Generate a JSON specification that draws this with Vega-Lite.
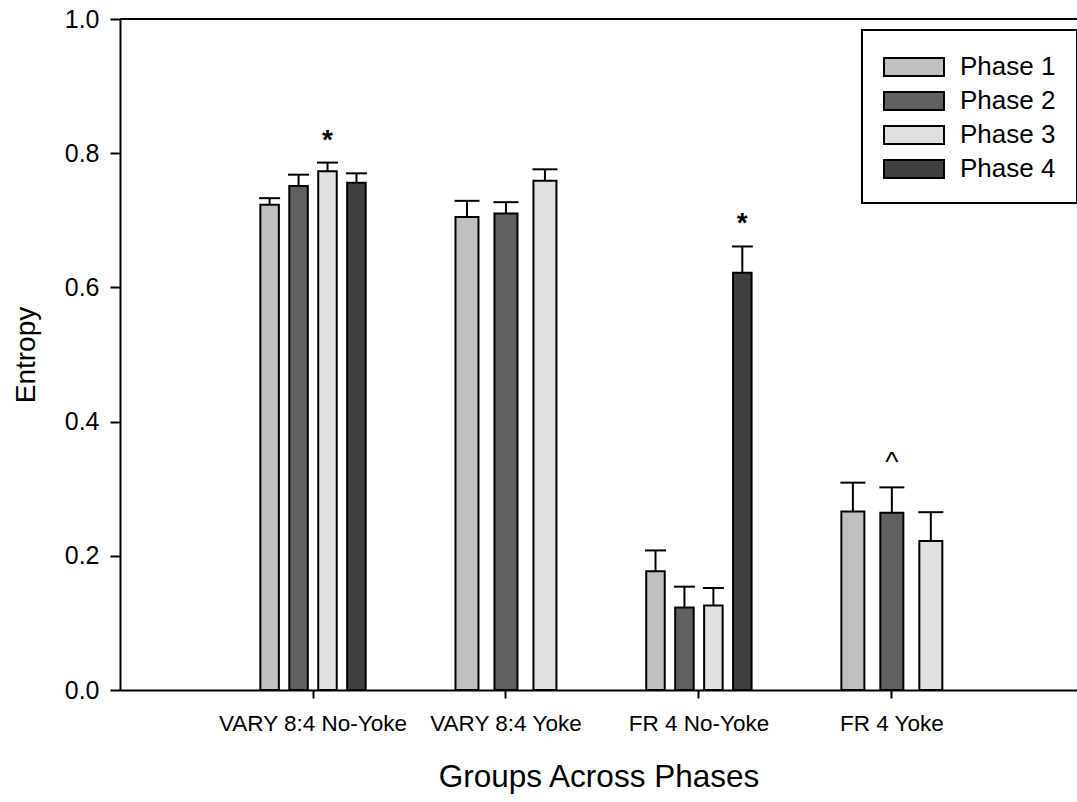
{
  "$schema": "https://vega.github.io/schema/vega-lite/v6.json",
  "width": 957,
  "height": 671,
  "autosize": {"type": "none"},
  "padding": {"left": 120, "top": 19, "right": 0, "bottom": 112},
  "background": "white",
  "config": {
    "view": {"stroke": null},
    "font": "Liberation Sans",
    "axis": {"domainColor": "black", "domainWidth": 2, "tickColor": "black", "tickWidth": 2, "labelColor": "black", "titleColor": "black", "titleFontWeight": "normal", "grid": false, "labelFont": "Liberation Sans", "titleFont": "Liberation Sans"},
    "axisY": {"labelFontSize": 25, "tickSize": 10, "labelPadding": 11, "titleFontSize": 28, "titlePadding": 24},
    "axisX": {"labelAngle": 0, "labelFontSize": 22.5, "labelPadding": 14, "labelLimit": 400, "tickSize": 8, "titleFontSize": 31.5, "titlePadding": 27},
    "legend": {"strokeWidth": 2}
  },
  "data": {
    "values": [
      {"group": "VARY 8:4 No-Yoke", "yoke": "no", "phase": "Phase 1", "mean": 0.723, "upper": 0.733, "sig": ""},
      {"group": "VARY 8:4 No-Yoke", "yoke": "no", "phase": "Phase 2", "mean": 0.751, "upper": 0.768, "sig": ""},
      {"group": "VARY 8:4 No-Yoke", "yoke": "no", "phase": "Phase 3", "mean": 0.773, "upper": 0.786, "sig": "*"},
      {"group": "VARY 8:4 No-Yoke", "yoke": "no", "phase": "Phase 4", "mean": 0.756, "upper": 0.770, "sig": ""},
      {"group": "VARY 8:4 Yoke", "yoke": "yes", "phase": "Phase 1", "mean": 0.705, "upper": 0.729, "sig": ""},
      {"group": "VARY 8:4 Yoke", "yoke": "yes", "phase": "Phase 2", "mean": 0.710, "upper": 0.727, "sig": ""},
      {"group": "VARY 8:4 Yoke", "yoke": "yes", "phase": "Phase 3", "mean": 0.759, "upper": 0.776, "sig": ""},
      {"group": "FR 4 No-Yoke", "yoke": "no", "phase": "Phase 1", "mean": 0.177, "upper": 0.208, "sig": ""},
      {"group": "FR 4 No-Yoke", "yoke": "no", "phase": "Phase 2", "mean": 0.123, "upper": 0.154, "sig": ""},
      {"group": "FR 4 No-Yoke", "yoke": "no", "phase": "Phase 3", "mean": 0.126, "upper": 0.152, "sig": ""},
      {"group": "FR 4 No-Yoke", "yoke": "no", "phase": "Phase 4", "mean": 0.622, "upper": 0.661, "sig": "*"},
      {"group": "FR 4 Yoke", "yoke": "yes", "phase": "Phase 1", "mean": 0.266, "upper": 0.309, "sig": ""},
      {"group": "FR 4 Yoke", "yoke": "yes", "phase": "Phase 2", "mean": 0.264, "upper": 0.302, "sig": "^"},
      {"group": "FR 4 Yoke", "yoke": "yes", "phase": "Phase 3", "mean": 0.222, "upper": 0.265, "sig": ""}
    ]
  },
  "resolve": {"scale": {"xOffset": "independent"}},
  "layer": [
    {
      "mark": {"type": "rule", "color": "black", "strokeWidth": 2},
      "encoding": {"y": {"datum": 1, "type": "quantitative", "scale": {"domain": [0, 1]}, "title": "Entropy", "axis": {"values": [0, 0.2, 0.4, 0.6, 0.8, 1.0], "format": ".1f"}}}
    },
    {
      "transform": [{"filter": "datum.yoke == 'no'"}],
      "encoding": {
        "x": {"field": "group", "type": "nominal", "title": "Groups Across Phases",
          "scale": {"domain": ["VARY 8:4 No-Yoke", "VARY 8:4 Yoke", "FR 4 No-Yoke", "FR 4 Yoke"], "paddingInner": 0.4, "paddingOuter": 0.68, "align": 0.515}},
        "xOffset": {"field": "phase", "type": "nominal", "scale": {"domain": ["Phase 1", "Phase 2", "Phase 3", "Phase 4"], "paddingInner": 0.36, "paddingOuter": 0.18}}
      },
      "layer": [
        {
          "mark": {"type": "bar", "stroke": "black", "strokeWidth": 2},
          "encoding": {
            "y": {"field": "mean", "type": "quantitative", "title": "Entropy", "axis": {"values": [0, 0.2, 0.4, 0.6, 0.8, 1.0], "format": ".1f"}},
            "color": {"field": "phase", "type": "nominal",
              "scale": {"domain": ["Phase 1", "Phase 2", "Phase 3", "Phase 4"], "range": ["#c0c0c0", "#606060", "#e0e0e0", "#404040"]},
              "legend": {"title": null, "orient": "none", "legendX": 742, "legendY": 11, "symbolType": "M-1,-0.6H3V0.6H-1Z", "symbolSize": 900, "symbolStrokeColor": "black", "symbolStrokeWidth": 2, "symbolOpacity": 1, "labelFontSize": 26, "labelOffset": 45, "rowPadding": 5, "padding": 21, "strokeColor": "black", "labelColor": "black", "labelFont": "Liberation Sans"}}
          }
        },
        {
          "mark": {"type": "rule", "color": "black", "strokeWidth": 2},
          "encoding": {"y": {"field": "mean", "type": "quantitative"}, "y2": {"field": "upper"}}
        },
        {
          "mark": {"type": "tick", "color": "black", "thickness": 2, "size": 21, "opacity": 1},
          "encoding": {"y": {"field": "upper", "type": "quantitative"}}
        },
        {
          "transform": [{"filter": "datum.sig != ''"}],
          "mark": {"type": "text", "fontSize": 28, "fontWeight": "bold", "color": "black", "baseline": "alphabetic", "dy": -14},
          "encoding": {"y": {"field": "upper", "type": "quantitative"}, "text": {"field": "sig"}}
        }
      ]
    },
    {
      "transform": [{"filter": "datum.yoke == 'yes'"}],
      "encoding": {
        "x": {"field": "group", "type": "nominal", "title": "Groups Across Phases",
          "scale": {"domain": ["VARY 8:4 No-Yoke", "VARY 8:4 Yoke", "FR 4 No-Yoke", "FR 4 Yoke"], "paddingInner": 0.4, "paddingOuter": 0.68, "align": 0.515}},
        "xOffset": {"field": "phase", "type": "nominal", "scale": {"domain": ["Phase 1", "Phase 2", "Phase 3"], "paddingInner": 0.41, "paddingOuter": 0.19}}
      },
      "layer": [
        {
          "mark": {"type": "bar", "stroke": "black", "strokeWidth": 2},
          "encoding": {
            "y": {"field": "mean", "type": "quantitative"},
            "color": {"field": "phase", "type": "nominal"}
          }
        },
        {
          "mark": {"type": "rule", "color": "black", "strokeWidth": 2},
          "encoding": {"y": {"field": "mean", "type": "quantitative"}, "y2": {"field": "upper"}}
        },
        {
          "mark": {"type": "tick", "color": "black", "thickness": 2, "size": 25, "opacity": 1},
          "encoding": {"y": {"field": "upper", "type": "quantitative"}}
        },
        {
          "transform": [{"filter": "datum.sig != ''"}],
          "mark": {"type": "text", "fontSize": 28, "color": "black", "baseline": "alphabetic", "dy": -16},
          "encoding": {"y": {"field": "upper", "type": "quantitative"}, "text": {"field": "sig"}}
        }
      ]
    }
  ]
}
